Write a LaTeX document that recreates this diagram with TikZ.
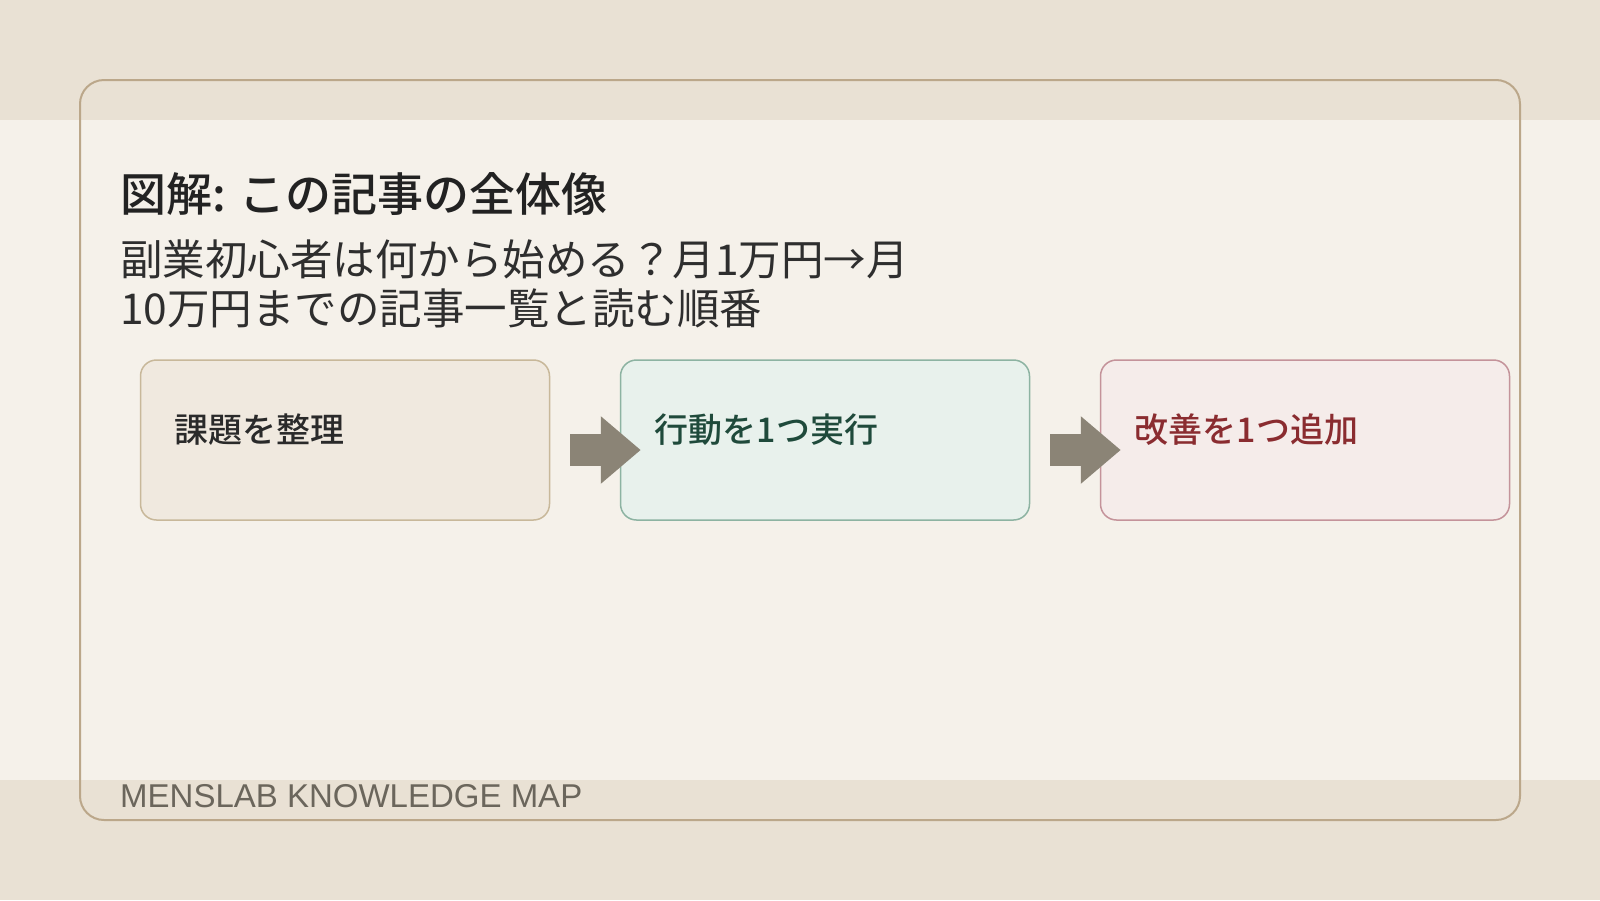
\documentclass[tikz,border=0pt]{standalone}
\usepackage{fontspec}
\setmainfont{Noto Sans CJK JP}
\newfontfamily\jpmedium{Noto Sans CJK JP Medium}
\newfontfamily\footfont{Liberation Sans}
\usetikzlibrary{arrows.meta, positioning}

\definecolor{paperdark}{HTML}{E9E1D4}
\definecolor{paperlight}{HTML}{F5F1EA}
\definecolor{framec}{HTML}{BBA78A}
\definecolor{inkc}{HTML}{222222}
\definecolor{subinkc}{HTML}{2E2E2E}
\definecolor{footc}{HTML}{6B665C}
\definecolor{arrowc}{HTML}{8B8476}
\definecolor{taskfill}{HTML}{F0E9DF}
\definecolor{taskdraw}{HTML}{C8B89A}
\definecolor{taskink}{HTML}{2A2A2A}
\definecolor{actfill}{HTML}{E8F1EC}
\definecolor{actdraw}{HTML}{8DB3A2}
\definecolor{actink}{HTML}{1F4A3B}
\definecolor{fixfill}{HTML}{F5ECEA}
\definecolor{fixdraw}{HTML}{C4939A}
\definecolor{fixink}{HTML}{8A2C30}

\begin{document}
\begin{tikzpicture}[
      x=1pt, y=-1pt,
      frame/.style={draw=framec, line width=2pt, rounded corners=24pt},
      stepbox/.style={rectangle, draw, line width=1.5pt, rounded corners=16pt, minimum width=409pt, minimum height=160pt, inner sep=0pt},
      steptext/.style={anchor=base west, inner sep=0pt, font=\jpmedium\fontsize{34pt}{40pt}\selectfont},
      flow/.style={draw=arrowc, line width=32pt, -{Triangle[length=40pt, width=65pt]}}
    ]

    % Background
    \useasboundingbox (0,0) rectangle (1600,900);
    \fill[paperdark] (0,0) rectangle (1600,900);
    \fill[paperlight] (0,120) rectangle (1600,780);
    \draw[frame] (80,80) rectangle (1520,820);

    % Headings
    \node[anchor=base west, inner sep=0pt, text=inkc, font=\jpmedium\fontsize{46pt}{52pt}\selectfont] (title) at (120,211) {図解: この記事の全体像};
    \node[anchor=base west, inner sep=0pt, text=subinkc, align=left, font=\fontsize{42.5pt}{49pt}\selectfont] (subtitle) at (120,324) {副業初心者は何から始める？月1万円→月\\10万円までの記事一覧と読む順番};

    % Steps
    \node[stepbox, fill=taskfill, draw=taskdraw] (task) at (345,440) {};
    \node[stepbox, fill=actfill, draw=actdraw, right=69.5pt of task] (act) {};
    \node[stepbox, fill=fixfill, draw=fixdraw, right=69.5pt of act] (fix) {};

    \node[steptext, text=taskink] (tasktxt) at ([shift={(35,2)}]task.west) {課題を整理};
    \node[steptext, text=actink] (acttxt) at ([shift={(35,2)}]act.west) {行動を1つ実行};
    \node[steptext, text=fixink] (fixtxt) at ([shift={(35,2)}]fix.west) {改善を1つ追加};

    % Connections
    \draw[flow] ([shift={(20,10)}]task.east) -- ([shift={(21,10)}]act.west);
    \draw[flow] ([shift={(20,10)}]act.east) -- ([shift={(21,10)}]fix.west);

    % Footer
    \node[anchor=base west, inner sep=0pt, text=footc, font=\footfont\fontsize{33pt}{40pt}\selectfont] (footer) at (120,807) {MENSLAB KNOWLEDGE MAP};
  \end{tikzpicture}
\end{document}
